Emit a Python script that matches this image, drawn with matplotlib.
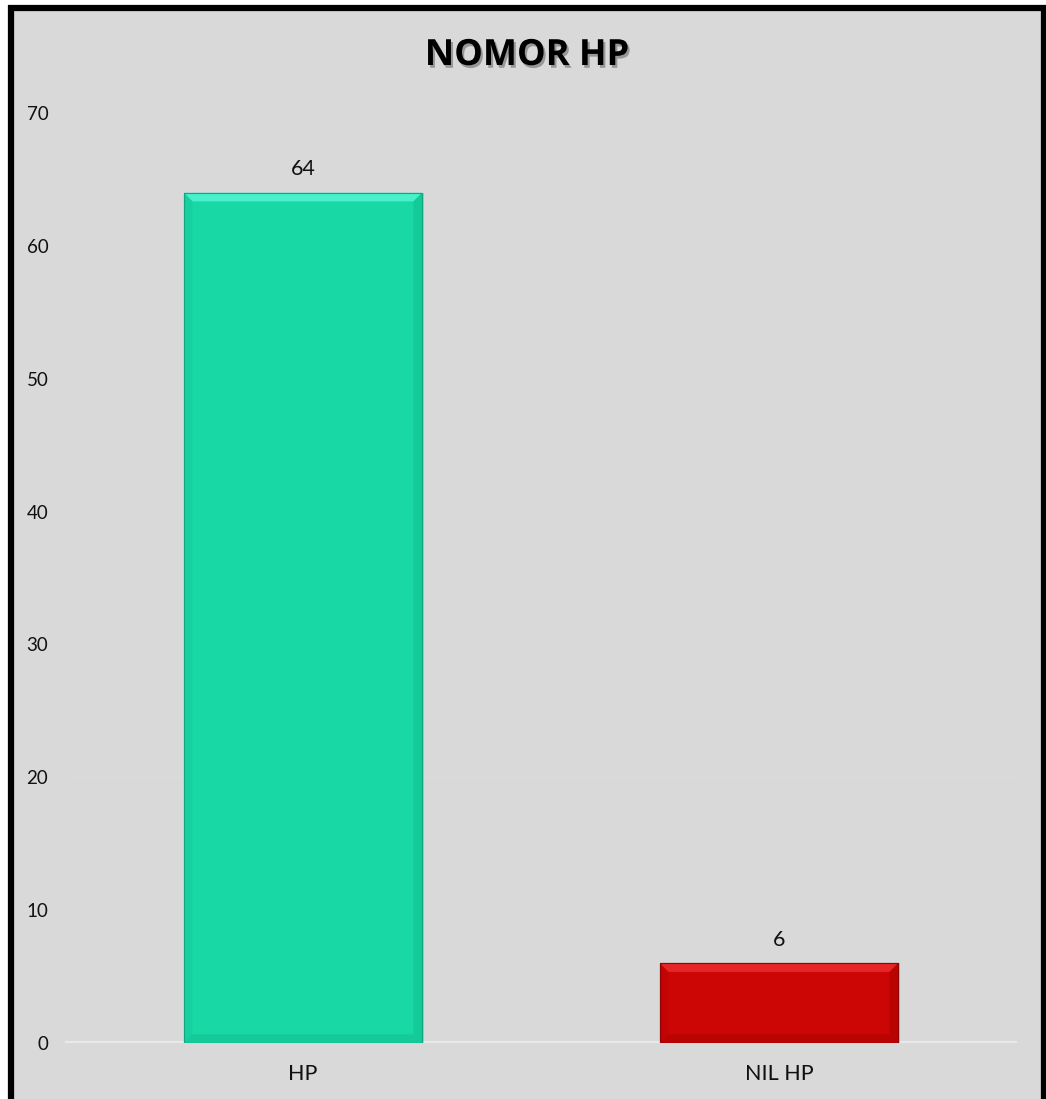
import matplotlib
matplotlib.use("Agg")
import matplotlib.pyplot as plt
from matplotlib.patches import Rectangle, Polygon
import matplotlib.patheffects as pe

categories = ["HP", "NIL HP"]
values = [64, 6]
yticks = [0, 10, 20, 30, 40, 50, 60, 70]
title = "NOMOR HP"

bar_colors = ["#18d9a5", "#cc0505"]
light_colors = ["#4ff3cf", "#ea2a2a"]
dark_colors = ["#10a87f", "#8e0303"]

plt.rcParams['font.family'] = ['Lato', 'DejaVu Sans']

W, H = 1046, 1099
fig = plt.figure(figsize=(W / 100, H / 100), dpi=100)
fig.patch.set_facecolor("white")

# chart frame
frame = Rectangle((11 / W, -0.05), (1044 - 11) / W, (1099 - 8) / H + 0.05,
                  transform=fig.transFigure, facecolor="#d9d9d9",
                  edgecolor="black", linewidth=4.5, zorder=-10)
fig.patches.append(frame)

ax = fig.add_axes([65 / W, 56 / H, (1017 - 65) / W, (1043 - 113) / H])
ax.set_zorder(5)
ax.set_facecolor("none")
ax.set_xlim(-0.5, 1.5)
ax.set_ylim(0, 70)
ax.set_yticks(yticks)
ax.set_xticks(range(len(categories)))
ax.set_xticklabels(categories)
for s in ax.spines.values():
    s.set_visible(False)
ax.tick_params(axis='y', length=0, pad=12, labelsize=13.5, labelcolor="#111111")
ax.tick_params(axis='x', length=0, pad=15, labelsize=15.5, labelcolor="#111111")
for t in yticks[1:]:
    ax.axhline(t, color="#dbdbdb", linewidth=1.2, zorder=1)
ax.axhline(0, color="#e9e9e9", linewidth=3, zorder=1)

bw = 0.5
bx = 0.018   # bevel in x (data units)
by = 0.65    # bevel in y (data units)
for i, (v, c, lc, dc) in enumerate(zip(values, bar_colors, light_colors, dark_colors)):
    x0, x1 = i - bw / 2, i + bw / 2
    ax.add_patch(Rectangle((x0 + 0.004, 0), bw, v, facecolor="#000000", alpha=0.10,
                           edgecolor="none", zorder=2))
    ax.add_patch(Rectangle((x0, 0), bw, v, facecolor=c, edgecolor=dc, linewidth=0.8, zorder=3))
    ax.add_patch(Polygon([(x0, v), (x1, v), (x1 - bx, v - by), (x0 + bx, v - by)],
                         closed=True, facecolor=lc, edgecolor="none", alpha=0.9, zorder=4))
    ax.add_patch(Polygon([(x0, 0), (x0, v), (x0 + bx, v - by), (x0 + bx, by)],
                         closed=True, facecolor=dc, edgecolor="none", alpha=0.15, zorder=4))
    ax.add_patch(Polygon([(x1, 0), (x1, v), (x1 - bx, v - by), (x1 - bx, by)],
                         closed=True, facecolor=dc, edgecolor="none", alpha=0.3, zorder=4))
    ax.add_patch(Polygon([(x0, 0), (x1, 0), (x1 - bx, by), (x0 + bx, by)],
                         closed=True, facecolor=dc, edgecolor="none", alpha=0.3, zorder=4))
    ax.add_patch(Rectangle((x0, 0), bw, v, facecolor="none", edgecolor=dc, linewidth=0.8, zorder=5))
    ax.annotate(str(v), xy=(i, v), xytext=(0, 12.5), textcoords="offset points",
                ha="center", va="baseline", fontsize=15.5, color="#111111")

fig.text(527 / W, 1 - 56 / H, title, ha="center", va="center", fontsize=26,
         fontweight="bold", color="black", family=['Open Sans', 'DejaVu Sans'],
         path_effects=[pe.withSimplePatchShadow(offset=(1.5, -2), shadow_rgbFace="black", alpha=0.3)])

fig.savefig("out.png", dpi=100, facecolor="white")
